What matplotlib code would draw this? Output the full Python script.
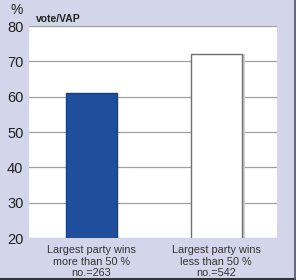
import numpy as np
import matplotlib.pyplot as plt
from matplotlib.lines import Line2D

categories = ["Largest party wins\nmore than 50 %\nno.=263",
              "Largest party wins\nless than 50 %\nno.=542"]
values = [61, 72]
colors = ["#1f4f9c", "#ffffff"]
edges = ["#1a3f80", "#707070"]
yticks = [20, 30, 40, 50, 60, 70, 80]

plt.rcParams['font.family'] = ['Liberation Sans', 'DejaVu Sans']

fig = plt.figure(figsize=(2.96, 2.80), dpi=100, facecolor="#d3d6ea")
ax = fig.add_axes([0.098, 0.15, 0.838, 0.757])
ax.set_facecolor("white")

x = np.arange(len(values))
width = 0.41

# soft shadow behind the white bar
ax.bar(x[1:] + 0.025, values[1:], width, color="#cccccc", zorder=2)
ax.bar(x, values, width, color=colors, edgecolor=edges, linewidth=1.0, zorder=3)

ax.set_ylim(20, 80)
ax.set_xlim(-0.502, 1.49)
ax.set_yticks(yticks)
ax.set_yticklabels([str(t) for t in yticks], fontsize=10.5, color="#222222")
ax.set_xticks(x)
ax.set_xticklabels(categories, fontsize=7.8, color="#333333", linespacing=1.2)
ax.tick_params(axis="x", length=0, pad=5)
ax.tick_params(axis="y", length=0, pad=4)
ax.yaxis.grid(True, color="#a0a0a0", linewidth=0.9, zorder=1)
ax.set_axisbelow(True)
for s in ax.spines.values():
    s.set_visible(False)

fig.text(0.034, 0.95, "%", fontsize=10, color="#222222")
fig.text(0.12, 0.92, "vote/VAP", fontsize=7.5, fontweight="bold", color="#222222")

# dark frame on right and bottom edges
fig.add_artist(Line2D([0, 1], [0.004, 0.004], transform=fig.transFigure, color="#333333", linewidth=1.5))
fig.add_artist(Line2D([0.996, 0.996], [0, 1], transform=fig.transFigure, color="#555566", linewidth=1.2))

plt.savefig("out.png", dpi=100, facecolor=fig.get_facecolor())
